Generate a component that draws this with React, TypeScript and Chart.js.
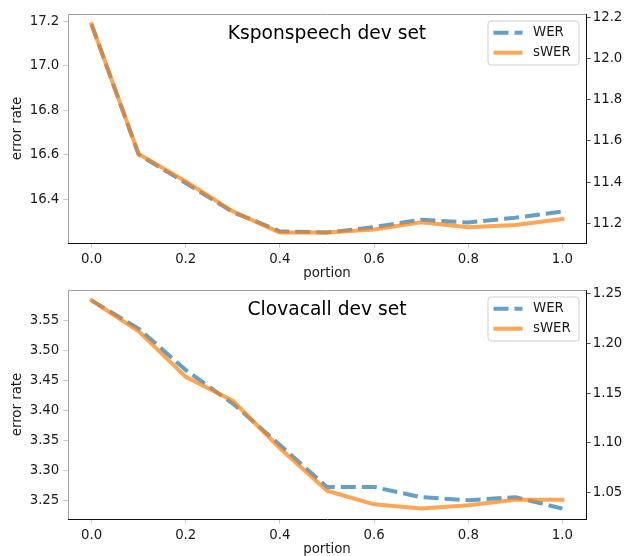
import React, { useEffect, useRef } from "react";
import { Chart, registerables } from "chart.js";
Chart.register(...registerables);

const PORTION = [0, 0.1, 0.2, 0.3, 0.4, 0.5, 0.6, 0.7, 0.8, 0.9, 1.0];
const X_TICKS = [0, 0.2, 0.4, 0.6, 0.8, 1.0];

const KSPON_WER = [17.185, 16.602, 16.474, 16.344, 16.258, 16.252, 16.277, 16.31, 16.297, 16.319, 16.346];
const KSPON_SWER = [12.165, 11.536, 11.403, 11.258, 11.155, 11.156, 11.17, 11.205, 11.181, 11.192, 11.221];
const KSPON_LEFT_TICKS = [16.4, 16.6, 16.8, 17.0, 17.2];
const KSPON_RIGHT_TICKS = [11.2, 11.4, 11.6, 11.8, 12.0, 12.2];

const CLOVA_WER = [3.583, 3.536, 3.467, 3.411, 3.342, 3.272, 3.272, 3.255, 3.25, 3.255, 3.236];
const CLOVA_SWER = [1.2434, 1.2123, 1.1664, 1.1423, 1.0945, 1.0517, 1.038, 1.0337, 1.037, 1.0427, 1.0427];
const CLOVA_LEFT_TICKS = [3.25, 3.3, 3.35, 3.4, 3.45, 3.5, 3.55];
const CLOVA_RIGHT_TICKS = [1.05, 1.1, 1.15, 1.2, 1.25];

const FONT = "'DejaVu Sans', sans-serif";
const FS = 13.333;
const TEXT = "#1a1a1a";
const W = 625;
const H = 280;

function padRange(arr: number[]) {
  const mn = Math.min(...arr);
  const mx = Math.max(...arr);
  const m = (mx - mn) * 0.05;
  return { min: mn - m, max: mx + m };
}

function makeConfig(
  title: string,
  wer: number[],
  swer: number[],
  leftTicks: number[],
  rightTicks: number[],
  leftDigits: number,
  rightDigits: number
): any {
  const lr = padRange(wer);
  const rr = padRange(swer);
  const overlay = {
    id: "overlay" + title,
    afterDraw(chart: any) {
      const ctx = chart.ctx;
      const ca = chart.chartArea;
      ctx.save();
      // spines
      ctx.lineWidth = 1;
      ctx.strokeStyle = "#a0a0a0";
      ctx.beginPath();
      ctx.moveTo(ca.left + 0.5, ca.bottom);
      ctx.lineTo(ca.left + 0.5, ca.top + 0.5);
      ctx.lineTo(ca.right, ca.top + 0.5);
      ctx.stroke();
      ctx.strokeStyle = "#111";
      ctx.beginPath();
      ctx.moveTo(ca.left, ca.bottom + 0.5);
      ctx.lineTo(ca.right + 1, ca.bottom + 0.5);
      ctx.moveTo(ca.right + 0.5, ca.bottom + 0.5);
      ctx.lineTo(ca.right + 0.5, ca.top);
      ctx.stroke();
      // title
      ctx.fillStyle = "#000";
      ctx.font = `18.667px ${FONT}`;
      ctx.textAlign = "center";
      ctx.textBaseline = "alphabetic";
      ctx.fillText(title, (ca.left + ca.right) / 2, ca.top + 25);
      // legend
      const bw = 91;
      const bh = 44;
      const bx = ca.right - 7 - bw;
      const by = ca.top + 7;
      const r = 3;
      ctx.beginPath();
      ctx.moveTo(bx + r, by);
      ctx.lineTo(bx + bw - r, by);
      ctx.arcTo(bx + bw, by, bx + bw, by + r, r);
      ctx.lineTo(bx + bw, by + bh - r);
      ctx.arcTo(bx + bw, by + bh, bx + bw - r, by + bh, r);
      ctx.lineTo(bx + r, by + bh);
      ctx.arcTo(bx, by + bh, bx, by + bh - r, r);
      ctx.lineTo(bx, by + r);
      ctx.arcTo(bx, by, bx + r, by, r);
      ctx.closePath();
      ctx.fillStyle = "rgba(255,255,255,0.8)";
      ctx.fill();
      ctx.strokeStyle = "#d0d0d0";
      ctx.lineWidth = 1;
      ctx.stroke();
      const ds = chart.data.datasets;
      ds.forEach((d: any, i: number) => {
        const cy = by + 11.7 + i * 20;
        ctx.beginPath();
        ctx.strokeStyle = d.borderColor;
        ctx.lineWidth = d.borderWidth;
        ctx.setLineDash(d.borderDash || []);
        ctx.lineCap = d.borderCapStyle || "butt";
        const x0 = bx + 5.5 + (d.borderDash ? 0 : 2);
        const x1 = bx + 34.5 - (d.borderDash ? 0 : 2);
        ctx.moveTo(x0, cy);
        ctx.lineTo(x1, cy);
        ctx.stroke();
        ctx.setLineDash([]);
        ctx.fillStyle = TEXT;
        ctx.font = `${FS}px ${FONT}`;
        ctx.textAlign = "left";
        ctx.textBaseline = "middle";
        ctx.fillText(d.label, bx + 45, cy);
      });
      ctx.restore();
    },
  };

  const tickFont = { family: FONT, size: FS };
  return {
    type: "line",
    data: {
      datasets: [
        {
          label: "WER",
          data: PORTION.map((p, i) => ({ x: p, y: wer[i] })),
          yAxisID: "y",
          borderColor: "rgba(31,119,180,0.7)",
          borderWidth: 4,
          borderDash: [15, 6],
          borderCapStyle: "butt",
          borderJoinStyle: "round",
          pointRadius: 0,
          tension: 0,
          fill: false,
          order: 1,
        },
        {
          label: "sWER",
          data: PORTION.map((p, i) => ({ x: p, y: swer[i] })),
          yAxisID: "y1",
          borderColor: "rgba(255,127,14,0.7)",
          borderWidth: 4,
          borderCapStyle: "square",
          borderJoinStyle: "round",
          pointRadius: 0,
          tension: 0,
          fill: false,
          order: 0,
        },
      ],
    },
    options: {
      animation: false,
      responsive: false,
      devicePixelRatio: 1,
      layout: { padding: { top: 14, left: 0, right: 0, bottom: 0 } },
      plugins: { legend: { display: false }, tooltip: { enabled: false }, title: { display: false } },
      scales: {
        x: {
          type: "linear",
          min: -0.05,
          max: 1.05,
          afterBuildTicks: (s: any) => {
            s.ticks = X_TICKS.map((v) => ({ value: v }));
          },
          afterFit: (s: any) => {
            s.height = 37;
          },
          ticks: {
            callback: (v: any) => Number(v).toFixed(1),
            font: tickFont,
            color: TEXT,
            padding: 4,
            maxRotation: 0,
            autoSkip: false,
          },
          grid: { drawOnChartArea: false, drawTicks: true, tickLength: 4.67, color: "#c8c8c8" },
          border: { display: false },
          title: {
            display: true,
            text: "portion",
            color: TEXT,
            font: { family: FONT, size: FS, lineHeight: 1 },
            padding: { top: 0, bottom: 0 },
          },
        },
        y: {
          type: "linear",
          position: "left",
          min: lr.min,
          max: lr.max,
          afterBuildTicks: (s: any) => {
            s.ticks = leftTicks.map((v) => ({ value: v }));
          },
          afterFit: (s: any) => {
            s.width = 68;
          },
          ticks: {
            callback: (v: any) => Number(v).toFixed(leftDigits),
            font: tickFont,
            color: TEXT,
            padding: 4,
            autoSkip: false,
          },
          grid: { drawOnChartArea: false, drawTicks: true, tickLength: 4.67, color: "#c8c8c8" },
          border: { display: false },
          title: {
            display: true,
            text: "error rate",
            color: TEXT,
            font: { family: FONT, size: FS, lineHeight: 1 },
            padding: { top: 10.7, bottom: 0 },
          },
        },
        y1: {
          type: "linear",
          position: "right",
          min: rr.min,
          max: rr.max,
          afterBuildTicks: (s: any) => {
            s.ticks = rightTicks.map((v) => ({ value: v }));
          },
          afterFit: (s: any) => {
            s.width = W - 586;
          },
          ticks: {
            callback: (v: any) => Number(v).toFixed(rightDigits),
            font: tickFont,
            color: TEXT,
            padding: 2,
            autoSkip: false,
          },
          grid: { drawOnChartArea: false, drawTicks: true, tickLength: 4.67, color: "#555" },
          border: { display: false },
        },
      },
    },
    plugins: [overlay],
  };
}

function Panel(props: { top: number; cfg: () => any }) {
  const ref = useRef<HTMLCanvasElement | null>(null);
  useEffect(() => {
    if (!ref.current) return;
    const chart = new Chart(ref.current, props.cfg());
    return () => chart.destroy();
  }, []);
  return (
    <canvas
      ref={ref}
      width={W}
      height={H}
      style={{ position: "absolute", left: 0, top: props.top, width: W, height: H }}
    />
  );
}

export default function App() {
  return (
    <div style={{ position: "absolute", left: 0, top: 0, width: W, height: 556, background: "#fff", overflow: "hidden" }}>
      <Panel
        top={0}
        cfg={() => makeConfig("Ksponspeech dev set", KSPON_WER, KSPON_SWER, KSPON_LEFT_TICKS, KSPON_RIGHT_TICKS, 1, 1)}
      />
      <Panel
        top={276}
        cfg={() => makeConfig("Clovacall dev set", CLOVA_WER, CLOVA_SWER, CLOVA_LEFT_TICKS, CLOVA_RIGHT_TICKS, 2, 2)}
      />
    </div>
  );
}
